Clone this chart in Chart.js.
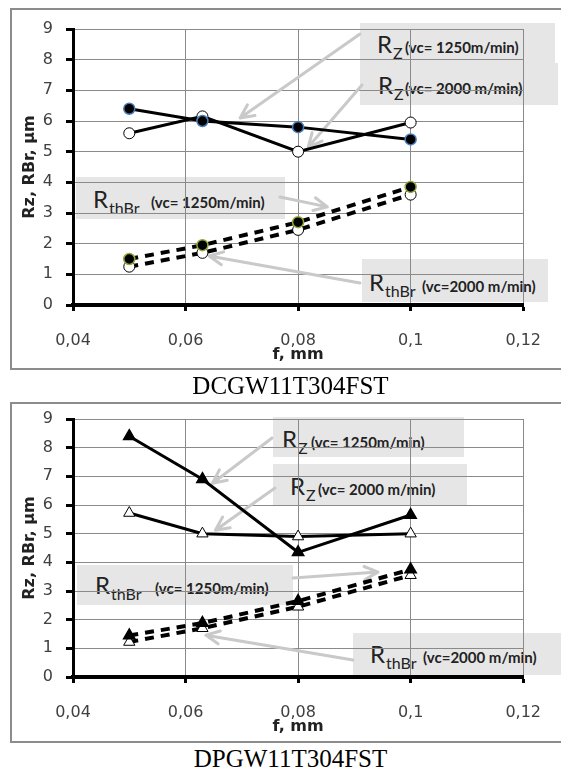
<!DOCTYPE html>
<html>
<head>
<meta charset="utf-8">
<script src="https://cdn.jsdelivr.net/npm/chart.js@4.4.0/dist/chart.umd.min.js"></script>
<style>
  html, body { margin:0; padding:0; background:#fff; }
  body { position:relative; width:561px; height:771px; overflow:hidden; }
  .frame { position:absolute; left:10px; width:570px; box-sizing:border-box; border:2px solid #8c8c8c; }
  canvas { position:absolute; left:0; z-index:2; }
  .box { position:absolute; background:#e6e6e6; z-index:1; }
  .box .r { position:absolute; font:24px Lato; line-height:24px; white-space:nowrap; color:#222; }
  .box .r span { font-size:16px; vertical-align:-6px; margin-left:1px; }
  .box .v { position:absolute; font:bold 15px Lato; line-height:16px; white-space:nowrap; color:#222; }
  .cap { position:absolute; left:10px; width:561px; text-align:center; font:25px "Liberation Serif"; line-height:25px; color:#000; z-index:3; }
</style>
</head>
<body>
<div class="frame" style="top:8px;height:362px"></div>
<div class="frame" style="top:402px;height:341px"></div>

<!-- DCGW labels -->
<div class="box" style="left:360px;top:23px;width:195px;height:40px">
  <div class="r" style="left:17px;top:9px">R<span>Z</span></div>
  <div class="v" style="left:45px;top:16px">(vc= 1250m/min)</div>
</div>
<div class="box" style="left:360px;top:63px;width:198px;height:42px">
  <div class="r" style="left:18px;top:10px">R<span>Z</span></div>
  <div class="v" style="left:45px;top:17px">(vc= 2000 m/min)</div>
</div>
<div class="box" style="left:76px;top:177px;width:209px;height:42px">
  <div class="r" style="left:17px;top:10px">R<span>thBr</span></div>
  <div class="v" style="left:75px;top:17px">(vc= 1250m/min)</div>
</div>
<div class="box" style="left:362px;top:259px;width:186px;height:43px">
  <div class="r" style="left:7px;top:11px">R<span>thBr</span></div>
  <div class="v" style="left:60px;top:19px">(vc=2000 m/min)</div>
</div>

<!-- DPGW labels -->
<div class="box" style="left:273px;top:417px;width:191px;height:40px">
  <div class="r" style="left:9px;top:10px">R<span>Z</span></div>
  <div class="v" style="left:38px;top:17px">(vc= 1250m/min)</div>
</div>
<div class="box" style="left:273px;top:464px;width:194px;height:41px">
  <div class="r" style="left:17px;top:10px">R<span>Z</span></div>
  <div class="v" style="left:45px;top:17px">(vc= 2000 m/min)</div>
</div>
<div class="box" style="left:77px;top:565px;width:216px;height:40px">
  <div class="r" style="left:18px;top:8px">R<span>thBr</span></div>
  <div class="v" style="left:78px;top:15px">(vc= 1250m/min)</div>
</div>
<div class="box" style="left:353px;top:633px;width:215px;height:42px">
  <div class="r" style="left:17px;top:9px">R<span>thBr</span></div>
  <div class="v" style="left:70px;top:16px">(vc=2000 m/min)</div>
</div>

<canvas id="chartDC" width="561" height="372" style="top:0"></canvas>
<canvas id="chartDP" width="561" height="350" style="top:395px"></canvas>

<div class="cap" style="top:373px">DCGW11T304FST</div>
<div class="cap" style="top:746px">DPGW11T304FST</div>

<script>
// feed values (x) and axis ticks
const feed = [0.05, 0.063, 0.08, 0.1];
const xTicks = [0.04, 0.06, 0.08, 0.1, 0.12];
const yTicks = [0, 1, 2, 3, 4, 5, 6, 7, 8, 9];

// DCGW11T304FST
const dcRz1250 = [6.4, 6.0, 5.8, 5.4];
const dcRz2000 = [5.6, 6.15, 5.0, 5.95];
const dcRth1250 = [1.5, 1.95, 2.7, 3.85];
const dcRth2000 = [1.25, 1.7, 2.45, 3.6];

// DPGW11T304FST
const dpRz1250 = [8.4, 6.9, 4.35, 5.65];
const dpRz2000 = [5.72, 5.0, 4.9, 5.0];
const dpRth1250 = [1.45, 1.88, 2.65, 3.75];
const dpRth2000 = [1.22, 1.7, 2.45, 3.55];

// callout arrows: from = canvas px (box edge), to = [f, value]
const dcArrows = [
    { from: [360, 34], to: [0.0697, 6.1] },
    { from: [362, 85], to: [0.0818, 5.15] },
    { from: [280, 197], to: [0.0852, 3.2] },
    { from: [360, 283], to: [0.0642, 1.6] }
];
const dpArrows = [
    { from: [272, 43], to: [0.0648, 6.76] },
    { from: [275, 93], to: [0.0653, 5.12] },
    { from: [293, 183], to: [0.0942, 3.66] },
    { from: [353, 265], to: [0.0636, 1.46] }
];

function arrowPlugin(arrows) {
    return {
        id: 'arrows',
        beforeDatasetsDraw(chart) {
            const { ctx, scales: { x, y } } = chart;
            ctx.save();
            ctx.strokeStyle = '#c9c9c9';
            ctx.lineWidth = 3;
            ctx.lineCap = 'round';
            ctx.lineJoin = 'round';
            arrows.forEach(a => {
                const tx = x.getPixelForValue(a.to[0]);
                const ty = y.getPixelForValue(a.to[1]);
                const ang = Math.atan2(ty - a.from[1], tx - a.from[0]);
                ctx.beginPath();
                ctx.moveTo(a.from[0], a.from[1]);
                ctx.lineTo(tx, ty);
                ctx.moveTo(tx - 15 * Math.cos(ang - 0.45), ty - 15 * Math.sin(ang - 0.45));
                ctx.lineTo(tx, ty);
                ctx.lineTo(tx - 15 * Math.cos(ang + 0.45), ty - 15 * Math.sin(ang + 0.45));
                ctx.stroke();
            });
            ctx.restore();
        }
    };
}

function series(values, opts) {
    return Object.assign({
        data: feed.map((f, i) => ({ x: f, y: values[i] })),
        borderColor: '#000',
        borderWidth: 3,
        tension: 0,
        fill: false,
        pointRadius: 5.5,
        pointBorderWidth: 1.5
    }, opts);
}

const tickFont = { family: 'DejaVu Sans', size: 16 };
const titleFont = { family: 'DejaVu Sans', size: 16, weight: 'bold' };

function makeOptions(padding) {
    return {
        responsive: false,
        animation: false,
        devicePixelRatio: 1,
        layout: { padding: padding },
        plugins: { legend: { display: false }, tooltip: { enabled: false } },
        scales: {
            x: {
                type: 'linear', min: 0.04, max: 0.12,
                afterBuildTicks: s => { s.ticks = xTicks.map(v => ({ value: v })); },
                afterFit: s => { s.height = 59; },
                ticks: {
                    callback: v => String(+v.toFixed(2)).replace('.', ','),
                    font: tickFont, color: '#404040', padding: 20, maxRotation: 0, autoSkip: false
                },
                grid: { color: '#8a8a8a', lineWidth: 1, tickLength: 6, tickColor: '#000', tickWidth: 3 },
                border: { color: '#000', width: 4 },
                title: { display: true, text: 'f, mm', font: titleFont, color: '#222', padding: { top: 0, bottom: 0 } }
            },
            y: {
                min: 0, max: 9,
                afterBuildTicks: s => { s.ticks = yTicks.map(v => ({ value: v })); },
                afterFit: s => { s.width = 63; },
                ticks: { font: tickFont, color: '#404040', padding: 13 },
                grid: { color: '#8a8a8a', lineWidth: 1, tickLength: 7, tickColor: '#000', tickWidth: 3 },
                border: { color: '#000', width: 3 },
                title: { display: true, text: 'Rz, RBr, µm', font: titleFont, color: '#222', padding: { top: 10, bottom: 0 } }
            }
        }
    };
}

new Chart(document.getElementById('chartDC'), {
    type: 'line',
    data: {
        datasets: [
            series(dcRth1250, { borderWidth: 4, borderDash: [9, 7], pointBackgroundColor: '#000', pointBorderColor: '#94a83a' }),
            series(dcRz1250, { pointBackgroundColor: '#000', pointBorderColor: '#4a7ebb' }),
            series(dcRth2000, { borderWidth: 4, borderDash: [9, 7], pointBackgroundColor: '#fff', pointBorderColor: '#000', pointBorderWidth: 1 }),
            series(dcRz2000, { pointBackgroundColor: '#fff', pointBorderColor: '#000', pointBorderWidth: 1 })
        ]
    },
    options: makeOptions({ left: 10, right: 19, top: 29, bottom: 8 }),
    plugins: [arrowPlugin(dcArrows)]
});

new Chart(document.getElementById('chartDP'), {
    type: 'line',
    data: {
        datasets: [
            series(dpRth1250, { borderWidth: 4, borderDash: [9, 7], pointStyle: 'triangle', pointRadius: 6.5, pointBackgroundColor: '#000', pointBorderColor: '#000' }),
            series(dpRz1250, { pointStyle: 'triangle', pointRadius: 6.5, pointBackgroundColor: '#000', pointBorderColor: '#000' }),
            series(dpRth2000, { borderWidth: 4, borderDash: [9, 7], pointStyle: 'triangle', pointRadius: 6.5, pointBackgroundColor: '#fff', pointBorderColor: '#000', pointBorderWidth: 1 }),
            series(dpRz2000, { pointStyle: 'triangle', pointRadius: 6.5, pointBackgroundColor: '#fff', pointBorderColor: '#000', pointBorderWidth: 1 })
        ]
    },
    options: makeOptions({ left: 10, right: 23, top: 24, bottom: 9 }),
    plugins: [arrowPlugin(dpArrows)]
});
</script>
</body>
</html>
